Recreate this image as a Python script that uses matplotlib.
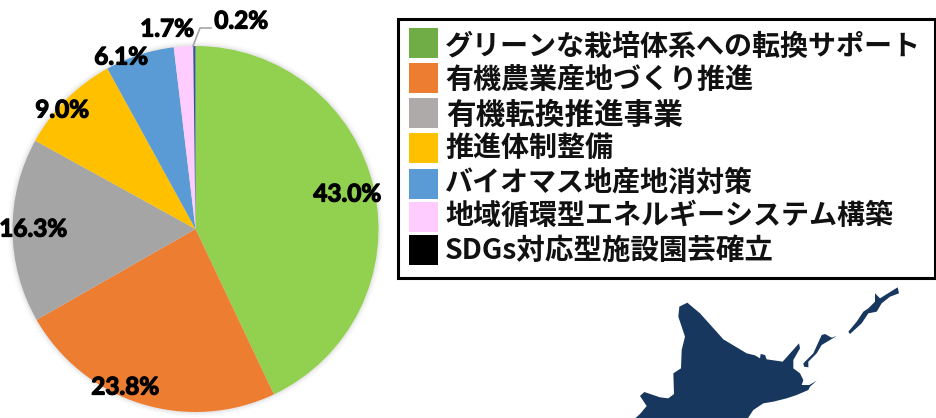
import matplotlib
matplotlib.use("Agg")
import matplotlib.pyplot as plt
import matplotlib.patheffects as pe
from matplotlib.patches import Polygon, Rectangle, Circle

categories = ["グリーンな栽培体系への転換サポート", "有機農業産地づくり推進", "有機転換推進事業",
              "推進体制整備", "バイオマス地産地消対策", "地域循環型エネルギーシステム構築", "SDGs対応型施設園芸確立"]
shares = [43.0, 23.8, 16.3, 9.0, 6.1, 1.7, 0.2]
wedge_colors = ["#92D050", "#ED7D31", "#A5A5A5", "#FFC000", "#5B9BD5", "#FFCCFF", "#2F5597"]
legend_colors = ["#70AD47", "#ED7D31", "#AEAAAA", "#FFC000", "#5B9BD5", "#FFCCFF", "#000000"]
label_centers = [(347, 194), (125, 387), (33, 229), (62, 110), (121, 57), (167, 29), (241, 21)]
legend_tops = [28, 63, 98, 133, 169, 202, 235]
legend_text_mid = [44.5, 77.5, 113, 146, 181, 213.5, 248.5]
legend_font = [20.2, 20.2, 21.3, 20.2, 20.2, 20.2, 20.5]
legend_text_x = [445, 445, 446, 445, 445, 445, 445]

# decorative map outline, traced in 3x zoom pixels from (600, 270)
hokkaido = [(100,450),(120,432),(140,408),(120,378),(133,366),(180,382),(205,385),(222,372),(220,310),
            (243,295),(245,240),(255,200),(235,140),(238,110),(262,98),(300,130),(345,180),(370,208),
            (440,250),(465,256),(480,265),(482,252),(495,255),(500,268),(548,275),(597,220),(600,235),
            (580,270),(580,295),(600,310),(610,330),(605,345),(628,345),(650,332),(630,350),(625,360),
            (590,375),(560,385),(520,395),(490,400),(460,420),(440,450)]
kunashiri = [(610,280),(640,250),(665,195),(675,192),(695,203),(710,198),(690,210),(665,225),(650,250),
             (625,275),(625,292),(612,290)]
etorofu = [(745,185),(770,155),(790,125),(805,115),(825,95),(825,70),(840,85),(880,60),(893,52),(897,70),
           (870,80),(845,100),(830,125),(805,130),(785,160),(750,192)]

W, H = 936, 418
fig = plt.figure(figsize=(W / 100, H / 100), dpi=100)
ax = fig.add_axes([0, 0, 1, 1])
Y = lambda y: H - y

for extra, alpha in [(5, 0.02), (3, 0.03), (1.5, 0.04)]:
    ax.add_patch(Circle((195.5, Y(229)), 183 + extra, fc="black", ec="none", alpha=alpha))

ax.pie(shares, colors=wedge_colors, startangle=90, counterclock=False, radius=183,
       center=(195.5, Y(229)), frame=True, wedgeprops=dict(linewidth=0))
ax.set_xlim(0, W)
ax.set_ylim(0, H)
ax.set_aspect("auto")
ax.axis("off")

for value, (x, y) in zip(shares, label_centers):
    ax.text(x, Y(y), f"{value:.1f}%", ha="center", va="center", family="Lato", weight="bold",
            fontsize=17.5, color="black",
            path_effects=[pe.withStroke(linewidth=0.9, foreground="black")])
ax.plot([193, 200, 211], [Y(46), Y(28), Y(28)], color="#A6A6A6", lw=1.2)

ax.add_patch(Rectangle((398, Y(277.5)), 537, 259, fc="white", ec="black", lw=2.2))
for name, color, top, mid, size, tx in zip(categories, legend_colors, legend_tops, legend_text_mid,
                                           legend_font, legend_text_x):
    ax.add_patch(Rectangle((408.5, Y(top + 30)), 29, 30, fc=color, ec="none"))
    ax.text(tx, Y(mid + 0.36 * size * 100 / 72), name, ha="left", va="baseline",
            family="Noto Sans CJK JP", weight="bold", fontsize=size, color="#111111")

for shape in (hokkaido, kunashiri, etorofu):
    ax.add_patch(Polygon([(600 + x / 3, Y(270 + y / 3)) for x, y in shape], fc="#17375E", ec="none"))

fig.savefig("out.png", dpi=100)
